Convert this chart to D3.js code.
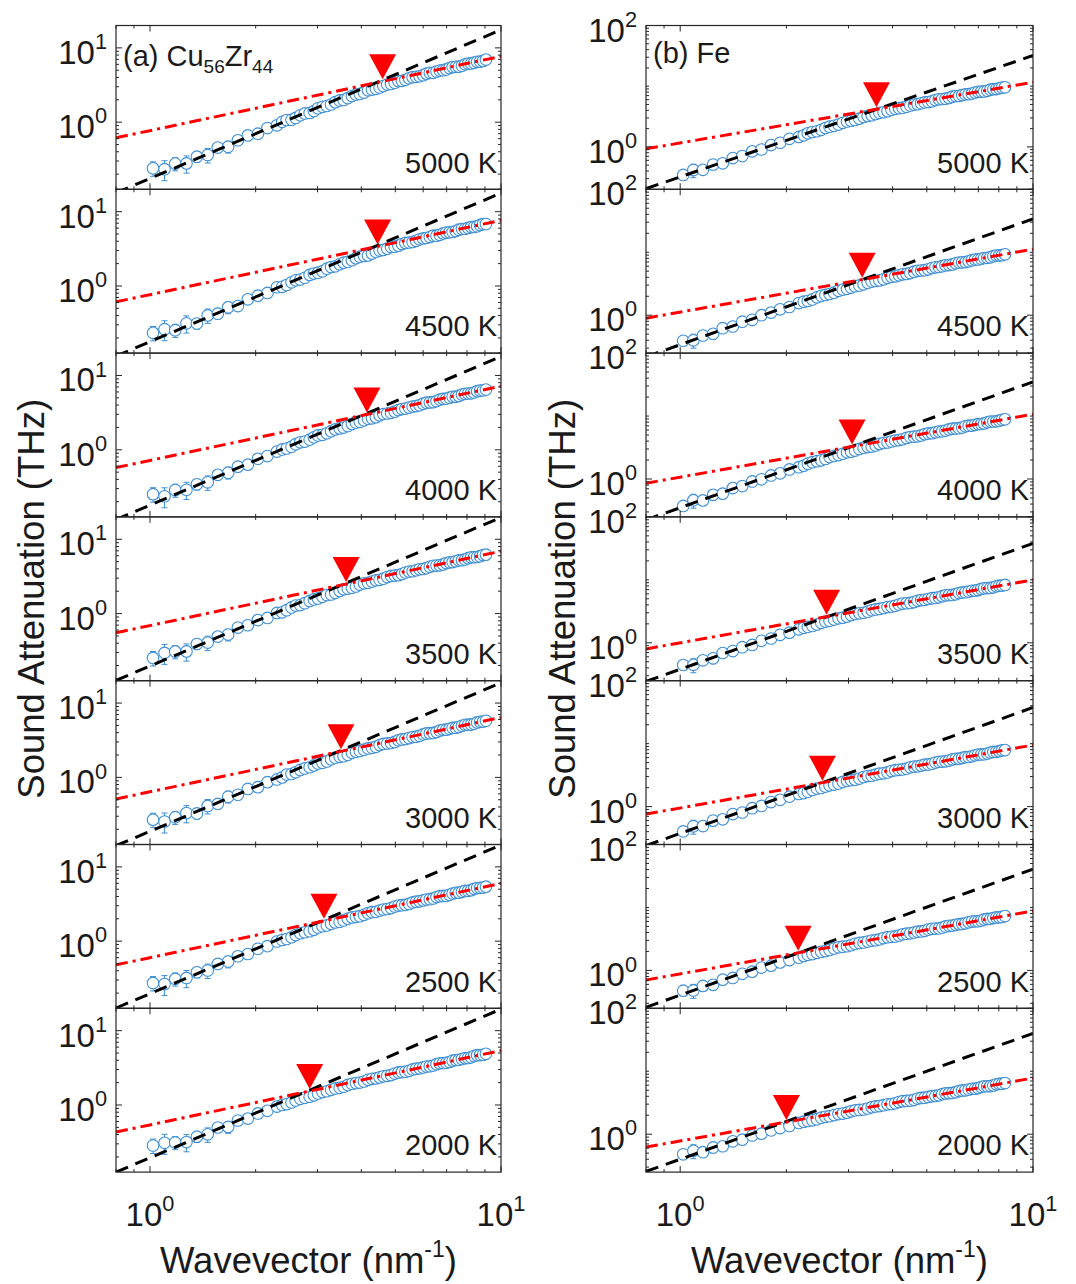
<!DOCTYPE html>
<html>
<head>
<meta charset="utf-8">
<script src="https://cdn.jsdelivr.net/npm/d3@7"></script>
<style>
  body { margin: 0; background: #fff; }
  text { font-family: "Liberation Sans", Arial, Helvetica, sans-serif; fill: #1a1a1a; }
</style>
</head>
<body>
<svg id="chart" width="1076" height="1284"></svg>
<script>
// temperatures, one panel each, top to bottom
const temps = ["5000 K", "4500 K", "4000 K", "3500 K", "3000 K", "2500 K", "2000 K"];

// wavevector grid (nm^-1) for each material
const qCuZr = [1.02,1.10,1.18,1.27,1.36,1.46,1.56,1.67,1.78,1.90,2.03,2.16,2.30,2.38,2.45,2.53,2.60,2.68,2.76,2.85,2.93,3.01,3.10,3.19,3.28,3.37,3.47,3.56,3.66,3.76,3.86,3.96,4.07,4.18,4.29,4.40,4.51,4.62,4.74,4.86,4.98,5.10,5.22,5.34,5.47,5.60,5.73,5.86,6.00,6.13,6.27,6.41,6.55,6.69,6.84,6.98,7.13,7.28,7.43,7.58,7.74,7.90,8.06,8.22,8.38,8.55,8.72,8.89,9.06];
const qFe = [1.02,1.09,1.16,1.24,1.32,1.41,1.50,1.60,1.70,1.81,1.92,2.04,2.17,2.24,2.30,2.37,2.44,2.51,2.58,2.65,2.73,2.81,2.89,2.97,3.05,3.13,3.22,3.31,3.40,3.49,3.58,3.67,3.77,3.87,3.97,4.07,4.17,4.27,4.38,4.49,4.60,4.71,4.82,4.93,5.05,5.17,5.29,5.41,5.53,5.65,5.78,5.91,6.04,6.17,6.30,6.43,6.57,6.71,6.85,6.99,7.13,7.27,7.42,7.57,7.72,7.87,8.02,8.17,8.33];

// sound attenuation (THz), Cu56Zr44
const cuzr5000 = [0.24,0.233,0.277,0.279,0.343,0.362,0.456,0.468,0.571,0.664,0.70,0.833,0.907,1.01,1.07,1.08,1.14,1.24,1.31,1.33,1.41,1.54,1.61,1.65,1.73,1.86,1.96,1.99,2.11,2.25,2.35,2.40,2.50,2.68,2.75,2.81,2.93,3.07,3.21,3.27,3.40,3.57,3.60,3.71,3.90,4.03,4.09,4.15,4.29,4.50,4.62,4.62,4.80,4.95,5.01,5.13,5.36,5.51,5.55,5.59,5.75,6.00,6.14,6.17,6.32,6.49,6.54,6.68,6.95];
const cuzr4500 = [0.234,0.262,0.254,0.314,0.313,0.402,0.424,0.516,0.536,0.662,0.741,0.806,0.961,0.975,1.03,1.12,1.19,1.22,1.29,1.41,1.47,1.51,1.58,1.71,1.80,1.84,1.96,2.06,2.12,2.22,2.37,2.48,2.54,2.58,2.73,2.89,3.00,3.06,3.18,3.35,3.38,3.49,3.67,3.80,3.85,3.91,4.05,4.25,4.37,4.42,4.56,4.75,4.75,4.88,5.10,5.24,5.28,5.33,5.48,5.72,5.85,5.89,6.04,6.20,6.24,6.37,6.63,6.79,6.82];
const cuzr4000 = [0.253,0.237,0.287,0.29,0.343,0.365,0.46,0.492,0.593,0.631,0.757,0.823,0.946,1.01,1.04,1.10,1.19,1.26,1.29,1.37,1.47,1.56,1.59,1.67,1.78,1.88,1.94,1.99,2.09,2.23,2.32,2.38,2.49,2.62,2.65,2.75,2.91,3.03,3.08,3.14,3.26,3.43,3.53,3.58,3.70,3.82,3.87,3.98,4.17,4.30,4.34,4.39,4.52,4.73,4.84,4.88,5.02,5.16,5.19,5.31,5.53,5.68,5.72,5.75,5.90,6.15,6.27,6.30,6.45];
const cuzr3500 = [0.253,0.296,0.308,0.31,0.39,0.407,0.49,0.522,0.649,0.697,0.817,0.873,1.02,1.04,1.11,1.21,1.28,1.30,1.38,1.48,1.55,1.60,1.68,1.78,1.81,1.90,2.02,2.12,2.17,2.22,2.32,2.46,2.55,2.60,2.70,2.80,2.85,2.95,3.10,3.21,3.25,3.29,3.40,3.57,3.67,3.71,3.83,3.95,3.99,4.09,4.27,4.39,4.43,4.46,4.59,4.79,4.89,4.93,5.06,5.20,5.23,5.35,5.57,5.71,5.74,5.77,5.92,6.13,6.21];
const cuzr3000 = [0.27,0.255,0.291,0.331,0.327,0.413,0.44,0.55,0.584,0.699,0.739,0.863,0.939,1.00,1.09,1.11,1.17,1.26,1.32,1.37,1.45,1.54,1.57,1.64,1.75,1.84,1.89,1.93,2.01,2.14,2.22,2.27,2.36,2.45,2.50,2.58,2.72,2.82,2.86,2.90,3.00,3.15,3.24,3.28,3.38,3.49,3.53,3.62,3.79,3.90,3.93,3.96,4.08,4.26,4.36,4.39,4.50,4.63,4.66,4.76,4.95,5.09,5.12,5.14,5.27,5.49,5.60,5.63,5.77];
const cuzr2500 = [0.274,0.265,0.311,0.32,0.382,0.403,0.494,0.533,0.627,0.672,0.791,0.858,0.991,1.04,1.07,1.13,1.21,1.28,1.32,1.36,1.43,1.53,1.59,1.63,1.71,1.79,1.83,1.90,2.01,2.09,2.13,2.17,2.26,2.38,2.46,2.49,2.58,2.67,2.71,2.79,2.92,3.01,3.05,3.08,3.17,3.32,3.40,3.44,3.54,3.64,3.67,3.76,3.92,4.03,4.06,4.09,4.20,4.38,4.47,4.50,4.62,4.74,4.76,4.86,5.06,5.19,5.22,5.27,5.42];
const cuzr2000 = [0.285,0.31,0.313,0.317,0.375,0.403,0.498,0.507,0.618,0.656,0.77,0.834,0.953,1.00,1.03,1.08,1.15,1.21,1.25,1.29,1.35,1.43,1.49,1.53,1.60,1.67,1.70,1.76,1.86,1.93,1.97,2.00,2.07,2.18,2.25,2.28,2.35,2.43,2.47,2.53,2.65,2.74,2.77,2.80,2.88,3.01,3.08,3.11,3.20,3.29,3.32,3.40,3.54,3.64,3.67,3.69,3.79,3.95,4.03,4.05,4.16,4.27,4.29,4.38,4.56,4.68,4.70,4.74,4.88];

// sound attenuation (THz), Fe
const fe5000 = [0.345,0.415,0.418,0.512,0.535,0.655,0.706,0.844,0.906,1.07,1.17,1.36,1.46,1.55,1.67,1.76,1.81,1.91,2.04,2.15,2.22,2.33,2.49,2.62,2.70,2.78,2.92,3.11,3.24,3.33,3.48,3.64,3.72,3.87,4.09,4.26,4.34,4.42,4.58,4.82,4.97,5.05,5.23,5.41,5.48,5.63,5.90,6.09,6.15,6.22,6.41,6.71,6.87,6.93,7.13,7.33,7.39,7.55,7.87,8.09,8.14,8.19,8.40,8.76,8.94,8.98,9.21,9.49,9.58];
const fe4500 = [0.393,0.399,0.476,0.507,0.622,0.662,0.788,0.844,1.00,1.10,1.24,1.35,1.56,1.64,1.68,1.78,1.92,2.03,2.10,2.17,2.28,2.44,2.55,2.62,2.75,2.89,2.97,3.09,3.28,3.42,3.50,3.57,3.72,3.93,4.07,4.14,4.30,4.46,4.53,4.67,4.91,5.07,5.13,5.19,5.36,5.62,5.77,5.83,6.01,6.19,6.25,6.41,6.69,6.87,6.92,6.97,7.17,7.48,7.64,7.69,7.89,8.10,8.15,8.32,8.65,8.87,8.91,8.99,9.26];
const fe4000 = [0.373,0.458,0.457,0.56,0.585,0.717,0.772,0.914,0.99,1.14,1.23,1.42,1.54,1.63,1.75,1.85,1.92,1.98,2.08,2.23,2.33,2.40,2.52,2.65,2.72,2.83,3.00,3.14,3.21,3.28,3.41,3.61,3.73,3.80,3.94,4.09,4.15,4.28,4.49,4.65,4.71,4.77,4.92,5.16,5.29,5.35,5.51,5.68,5.73,5.87,6.13,6.31,6.36,6.41,6.58,6.87,7.02,7.07,7.26,7.44,7.48,7.64,7.95,8.16,8.20,8.24,8.44,8.74,8.87];
const fe3500 = [0.444,0.446,0.527,0.567,0.688,0.74,0.852,0.925,1.075,1.17,1.34,1.45,1.64,1.73,1.79,1.85,1.95,2.08,2.17,2.23,2.34,2.45,2.51,2.61,2.77,2.88,2.94,3.00,3.12,3.29,3.39,3.45,3.57,3.70,3.76,3.87,4.06,4.20,4.25,4.30,4.44,4.65,4.77,4.82,4.96,5.11,5.16,5.28,5.51,5.67,5.72,5.76,5.92,6.18,6.31,6.35,6.52,6.70,6.74,6.89,7.17,7.35,7.39,7.43,7.61,7.92,8.08,8.11,8.30];
const fe3000 = [0.404,0.486,0.49,0.6,0.627,0.761,0.806,0.944,1.025,1.18,1.28,1.44,1.59,1.64,1.72,1.84,1.93,1.98,2.08,2.18,2.24,2.33,2.47,2.58,2.63,2.68,2.79,2.95,3.05,3.10,3.22,3.33,3.38,3.49,3.67,3.79,3.84,3.89,4.01,4.21,4.32,4.36,4.49,4.63,4.67,4.79,5.01,5.16,5.20,5.24,5.38,5.62,5.74,5.78,5.94,6.10,6.14,6.28,6.54,6.71,6.74,6.78,6.95,7.24,7.39,7.42,7.60,7.83,7.90];
const fe2500 = [0.477,0.48,0.567,0.59,0.713,0.759,0.883,0.955,1.11,1.19,1.34,1.46,1.59,1.70,1.77,1.82,1.90,1.98,2.03,2.11,2.23,2.33,2.38,2.42,2.51,2.65,2.73,2.78,2.88,2.98,3.02,3.11,3.26,3.37,3.42,3.46,3.57,3.74,3.83,3.88,4.00,4.12,4.16,4.26,4.45,4.58,4.62,4.65,4.78,4.99,5.11,5.15,5.29,5.43,5.47,5.59,5.82,5.97,6.01,6.04,6.19,6.45,6.58,6.61,6.78,6.94,6.97,7.07,7.32];
const fe2000 = [0.479,0.544,0.518,0.616,0.644,0.771,0.819,0.954,1.02,1.15,1.25,1.35,1.51,1.58,1.62,1.66,1.73,1.83,1.89,1.93,2.01,2.09,2.13,2.20,2.31,2.39,2.43,2.47,2.56,2.69,2.76,2.80,2.89,2.98,3.02,3.10,3.25,3.35,3.38,3.42,3.52,3.68,3.77,3.80,3.91,4.02,4.06,4.15,4.33,4.45,4.49,4.52,4.65,4.85,4.95,4.98,5.11,5.25,5.29,5.40,5.62,5.76,5.78,5.81,5.96,6.20,6.32,6.34,6.49];

// relative error bar half-widths per q point
const cuzrErr = [0.22,0.3,0.2,0.26,0.16,0.22,0.14,0.18,0.12,0.14,0.1,0.11,0.08,0.09,0.08,0.07,0.06,0.07,0.06,0.05,0.05,0.05,0.05,0.04,0.04,0.04,0.04,0.035,0.035,0.035,0.035,0.03,0.03,0.03,0.03,0.03,0.03,0.025,0.025,0.02,0.02,0.02,0.02,0.02,0.02,0.02,0.02,0.02,0.02,0.02,0.02,0.02,0.02,0.015,0.015,0.015,0.015,0.015,0.015,0.015,0.015,0.015,0.015,0.015,0.015,0.015,0.015,0.015,0.015];
const feErr = [0.15,0.25,0.12,0.18,0.1,0.12,0.08,0.09,0.07,0.07,0.06,0.05,0.05,0.045,0.04,0.04,0.04,0.035,0.035,0.03,0.03,0.03,0.03,0.025,0.025,0.025,0.025,0.02,0.02,0.02,0.02,0.02,0.02,0.02,0.02,0.02,0.02,0.015,0.015,0.015,0.015,0.015,0.015,0.015,0.015,0.015,0.015,0.015,0.015,0.015,0.015,0.015,0.015,0.015,0.015,0.015,0.015,0.015,0.015,0.015,0.015,0.015,0.015,0.015,0.015,0.015,0.015,0.015,0.015];

// fits: red ~ a*q (dash-dot), black ~ b*q^2 (dashed), triangle at crossover q
const cuzrRed = [0.77,0.765,0.72,0.69,0.64,0.60,0.54];
const cuzrBlack = [0.175,0.178,0.18,0.197,0.188,0.197,0.195];
const cuzrCross = [4.6,4.45,4.15,3.62,3.5,3.13,2.85];
const feRed = [1.16,1.12,1.07,1.0,0.95,0.88,0.78];
const feBlack = [0.32,0.34,0.35,0.38,0.375,0.405,0.40];
const feCross = [3.6,3.28,3.07,2.6,2.53,2.16,2.0];

// axis limits and labelled ticks
const xLim = [0.8, 10];
const xTickLabels = [1, 10];
const cuzrYLim = [[0.125,20],[0.125,20],[0.125,20],[0.125,20],[0.125,20],[0.125,20],[0.125,20]];
const feYLim = [[0.2,100],[0.25,100],[0.25,100],[0.25,100],[0.25,100],[0.25,100],[0.25,100]];
const cuzrYTicks = [1, 10];
const feYTicks = [1, 100];

const blue = "#3f8fd2";
const axisColor = "#262626";

let svg = d3.select("#chart");

let top0 = 25.5, panelH = 163.8;
let labelSize = 33;

let columns = [
  { x0: 116, x1: 501, q: qCuZr, err: cuzrErr, series: [cuzr5000,cuzr4500,cuzr4000,cuzr3500,cuzr3000,cuzr2500,cuzr2000],
    red: cuzrRed, black: cuzrBlack, cross: cuzrCross, ylim: cuzrYLim, yticks: cuzrYTicks, titleX: 44 },
  { x0: 646, x1: 1033, q: qFe, err: feErr, series: [fe5000,fe4500,fe4000,fe3500,fe3000,fe2500,fe2000],
    red: feRed, black: feBlack, cross: feCross, ylim: feYLim, yticks: feYTicks, titleX: 575 }
];

// "10" with a raised exponent
function powerText(sel, exp, size) {
  sel.append("tspan").text("10");
  sel.append("tspan").attr("font-size", size * 0.66).attr("dy", -size * 0.45).text(exp);
}

columns.forEach((col, ci) => {
  let x = d3.scaleLog().domain(xLim).range([col.x0, col.x1]);

  col.series.forEach((vals, pi) => {
    let top = top0 + pi * panelH;
    let bottom = top + panelH;
    let y = d3.scaleLog().domain(col.ylim[pi]).range([bottom, top]);

    let g = svg.append("g");
    let clipId = `clip-${ci}-${pi}`;
    svg.append("clipPath").attr("id", clipId)
      .append("rect").attr("x", col.x0).attr("y", top).attr("width", col.x1 - col.x0).attr("height", panelH);

    let plot = g.append("g").attr("clip-path", `url(#${clipId})`);

    // error bars
    vals.forEach((v, i) => {
      let cx = x(col.q[i]);
      let lo = y(v * (1 - col.err[i])), hi = y(v * (1 + col.err[i]));
      plot.append("line").attr("x1", cx).attr("x2", cx).attr("y1", lo).attr("y2", hi)
        .attr("stroke", blue).attr("stroke-width", 1);
      [lo, hi].forEach(yy => {
        plot.append("line").attr("x1", cx - 3).attr("x2", cx + 3).attr("y1", yy).attr("y2", yy)
          .attr("stroke", blue).attr("stroke-width", 1);
      });
    });

    // open circles
    plot.selectAll("circle.pt")
      .data(vals)
      .enter()
      .append("circle")
      .attr("cx", (d, i) => x(col.q[i]))
      .attr("cy", d => y(d))
      .attr("r", 5.8)
      .attr("fill", "#fff")
      .attr("stroke", blue)
      .attr("stroke-width", 1.1);

    // fit lines
    let line = d3.line().x(d => x(d[0])).y(d => y(d[1]));
    let a = col.red[pi], b = col.black[pi];
    plot.append("path")
      .attr("d", line(xLim.map(q => [q, b * q * q])))
      .attr("fill", "none").attr("stroke", "#000").attr("stroke-width", 3)
      .attr("stroke-dasharray", "13,8");
    plot.append("path")
      .attr("d", line(xLim.map(q => [q, a * q])))
      .attr("fill", "none").attr("stroke", "#ff0000").attr("stroke-width", 3)
      .attr("stroke-dasharray", "12,5,3,5");

    // crossover marker
    let qc = col.cross[pi];
    let tx = x(qc), ty = y(a * qc) - 2;
    g.append("path")
      .attr("d", `M${tx - 13.5},${ty - 25} L${tx + 13.5},${ty - 25} L${tx},${ty} Z`)
      .attr("fill", "#ff0000");

    // ticks (inside, all four sides)
    let ticks = g.append("g").attr("stroke", axisColor).attr("stroke-width", 1);
    y.ticks().forEach(v => {
      let len = col.yticks.includes(v) ? 6 : 3;
      ticks.append("line").attr("x1", col.x0).attr("x2", col.x0 + len).attr("y1", y(v)).attr("y2", y(v));
      ticks.append("line").attr("x1", col.x1).attr("x2", col.x1 - len).attr("y1", y(v)).attr("y2", y(v));
    });
    x.ticks().forEach(v => {
      let len = xTickLabels.includes(v) ? 6 : 3;
      ticks.append("line").attr("x1", x(v)).attr("x2", x(v)).attr("y1", bottom).attr("y2", bottom - len);
      ticks.append("line").attr("x1", x(v)).attr("x2", x(v)).attr("y1", top).attr("y2", top + len);
    });

    // frame
    g.append("rect").attr("x", col.x0).attr("y", top).attr("width", col.x1 - col.x0).attr("height", panelH)
      .attr("fill", "none").attr("stroke", axisColor).attr("stroke-width", 1.2);

    // y tick labels
    col.yticks.forEach(v => {
      let t = svg.append("text").attr("x", col.x0 - 9).attr("y", y(v) + 16)
        .attr("text-anchor", "end").attr("font-size", labelSize);
      powerText(t, Math.round(Math.log10(v)), labelSize);
    });

    // temperature label
    svg.append("text").attr("x", col.x1 - 4).attr("y", top + 147)
      .attr("text-anchor", "end").attr("font-size", 29).text(temps[pi]);

    // x tick labels on the bottom panel
    if (pi === col.series.length - 1) {
      xTickLabels.forEach(v => {
        let t = svg.append("text").attr("x", x(v)).attr("y", bottom + 54)
          .attr("text-anchor", "middle").attr("font-size", labelSize);
        powerText(t, Math.round(Math.log10(v)), labelSize);
      });
    }
  });

  // axis titles
  let xt = svg.append("text").attr("x", (col.x0 + col.x1) / 2).attr("y", 1273)
    .attr("text-anchor", "middle").attr("font-size", 36.5);
  xt.append("tspan").text("Wavevector (nm");
  xt.append("tspan").attr("font-size", 23).attr("dy", -16).text("-1");
  xt.append("tspan").attr("dy", 16).text(")");

  svg.append("text")
    .attr("transform", `translate(${col.titleX},${top0 + 3.5 * panelH}) rotate(-90)`)
    .attr("text-anchor", "middle").attr("font-size", 36.5)
    .text("Sound Attenuation (THz)");
});

// panel labels
let la = svg.append("text").attr("x", 123).attr("y", 66).attr("font-size", 29);
la.append("tspan").text("(a) Cu");
la.append("tspan").attr("font-size", 19).attr("dy", 7).text("56");
la.append("tspan").attr("dy", -7).text("Zr");
la.append("tspan").attr("font-size", 19).attr("dy", 7).text("44");

svg.append("text").attr("x", 653).attr("y", 63).attr("font-size", 29).text("(b) Fe");
</script>
</body>
</html>
